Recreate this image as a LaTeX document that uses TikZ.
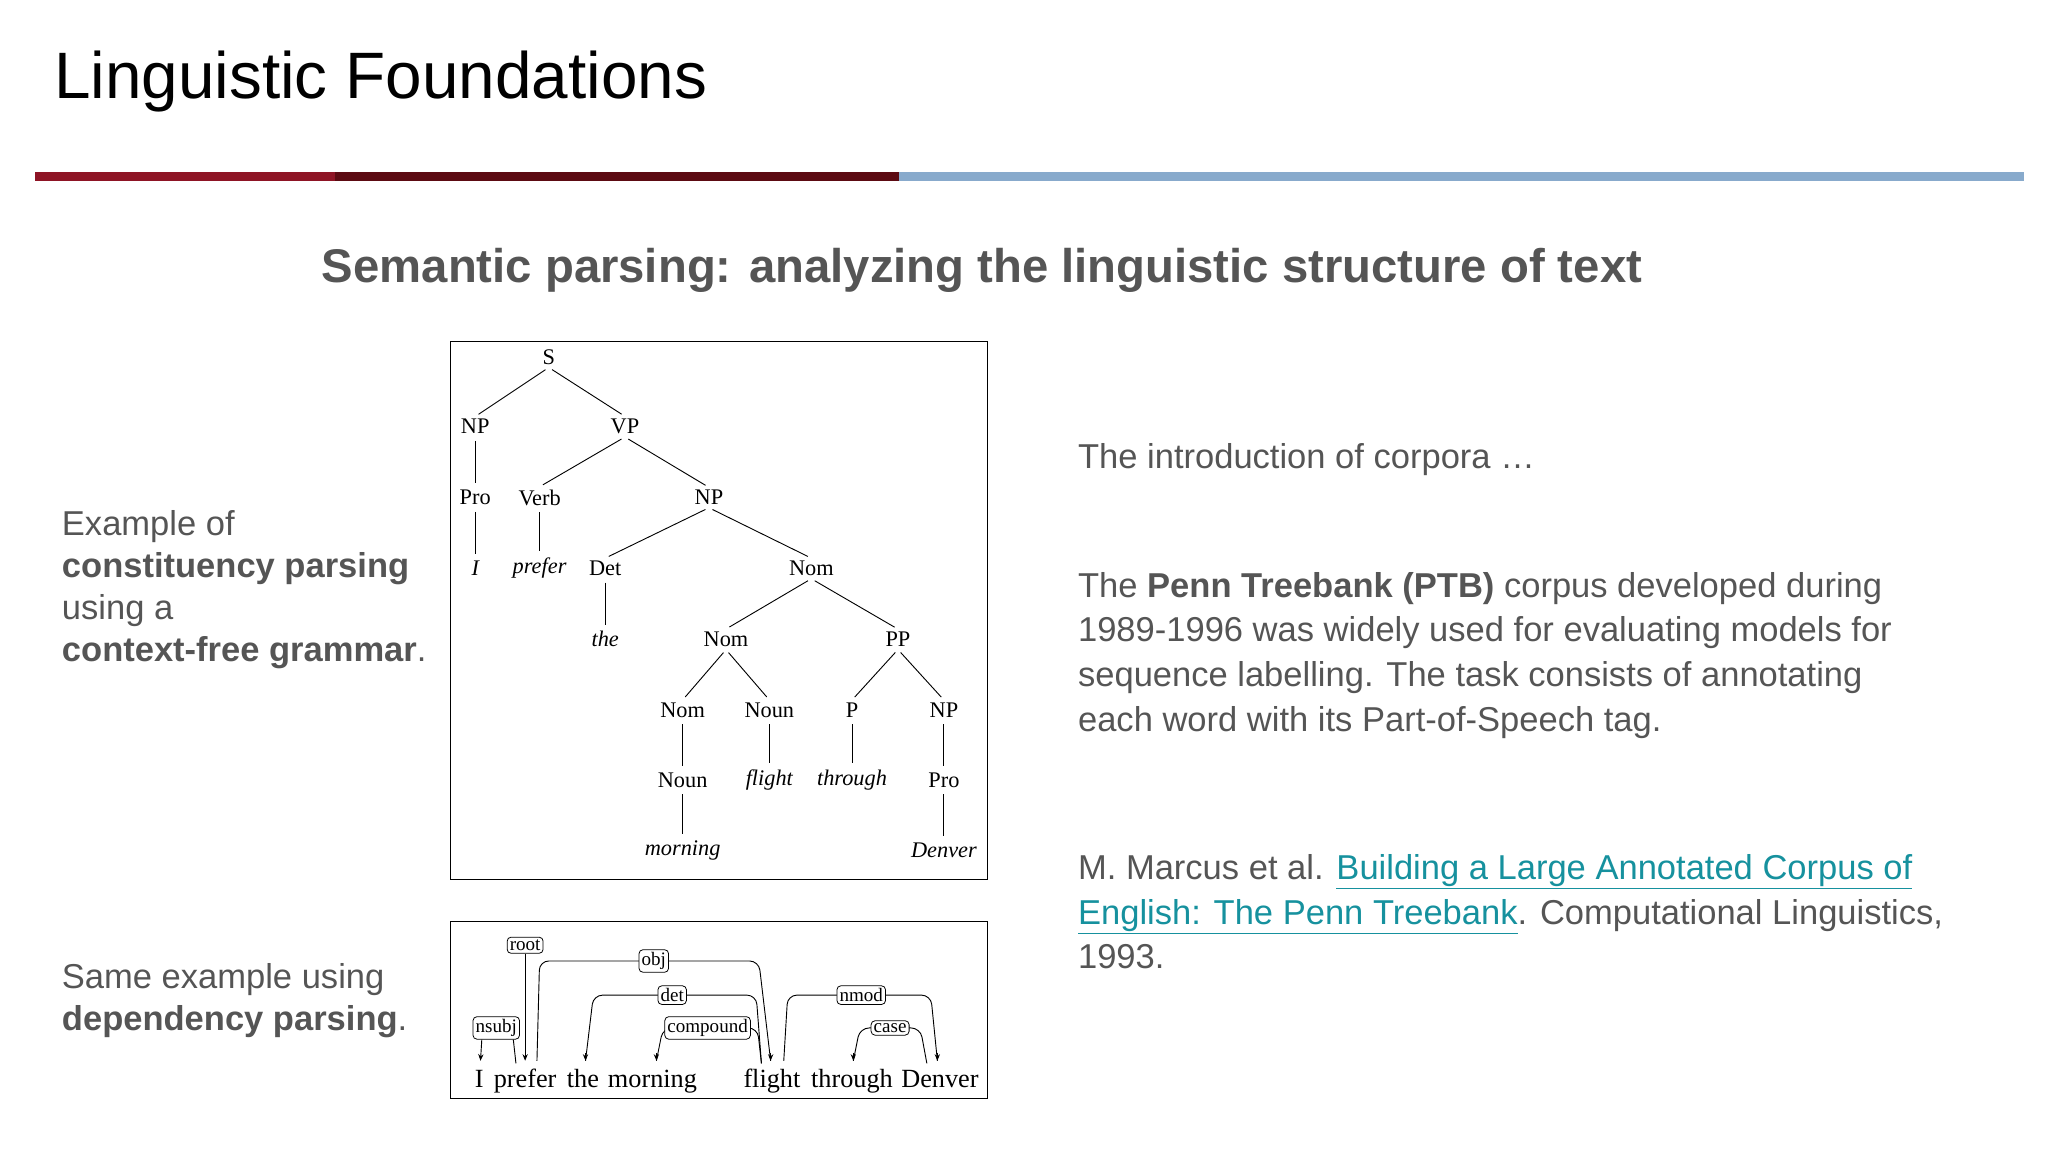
\documentclass[tikz,border=0pt]{standalone}
\usepackage{fontspec}
\setmainfont{Liberation Sans}
\newfontfamily\tms{Liberation Serif}
\usetikzlibrary{arrows.meta}
\definecolor{txtgray}{HTML}{555555}
\definecolor{barred}{HTML}{8E1425}
\definecolor{bardark}{HTML}{5C0A12}
\definecolor{barblue}{HTML}{88AACC}
\definecolor{linkc}{HTML}{16919E}
\tikzset{
 tn/.style={font=\tms\fontsize{17}{17}\selectfont, inner sep=2pt},
 ti/.style={tn, font=\tms\itshape\fontsize{17}{17}\selectfont},
 tl/.style={line width=0.7pt, shorten >=3pt, shorten <=3pt},
 dw/.style={font=\tms\fontsize{20}{20}\selectfont, anchor=base, inner sep=1pt},
 dl/.style={font=\tms\fontsize{14.5}{14.5}\selectfont, draw, rounded corners=3pt, fill=white, inner sep=2pt, line width=0.6pt},
 arc/.style={line width=0.7pt, rounded corners=7pt},
 tip/.style={-{Stealth[length=5pt,width=4pt]}, line width=0.7pt},
 body/.style={font=\fontsize{26.3}{34}\selectfont, text=txtgray, anchor=base west, inner sep=0pt},
}
\newcommand{\lnk}[1]{\textcolor{linkc}{#1}}
\begin{document}
\begin{tikzpicture}[x=1pt,y=-1pt]
\useasboundingbox (0,0) rectangle (1560,877.5);
\node[anchor=base west, inner sep=0pt, font=\fontsize{50}{50}\selectfont] (title) at (41,75) {Linguistic Foundations};
\fill[barred] (27,131) rectangle (255,138);
\fill[bardark] (255,131) rectangle (685,138);
\fill[barblue] (685,131) rectangle (1542,138);
\node[anchor=base, inner sep=0pt, font=\bfseries\fontsize{36}{36}\selectfont, text=txtgray] (sub) at (748,215) {Semantic parsing: analyzing the linguistic structure of text};
% left texts
\node[body] (l1) at (47,408) {Example of};
\node[body] (l2) at (47,440) {\bfseries constituency parsing};
\node[body] (l3) at (47,472) {using a};
\node[body] (l4) at (47,504) {\bfseries context-free grammar\mdseries.};
\node[body] (l5) at (47,753) {Same example using};
\node[body] (l6) at (47,785) {\bfseries dependency parsing\mdseries.};
% right texts
\node[body] (r1) at (821,357) {The introduction of corpora …};
\node[body] (r2) at (821,455) {The \textbf{Penn Treebank (PTB)} corpus developed during};
\node[body] (r3) at (821,489) {1989-1996 was widely used for evaluating models for};
\node[body] (r4) at (821,523) {sequence labelling. The task consists of annotating};
\node[body] (r5) at (821,557) {each word with its Part-of-Speech tag.};
\node[body] (r6) at (821,670) {M. Marcus et al. \lnk{\underline{Building a Large Annotated Corpus of}}};
\node[body] (r7) at (821,704) {\lnk{\underline{English: The Penn Treebank}}. Computational Linguistics,};
\node[body] (r8) at (821,738) {1993.};
% constituency tree
\draw[line width=0.9pt] (343,260) rectangle (752,670);
\node[tn] (S) at (418,272) {S};
\node[tn] (NP1) at (362,325) {NP};
\node[tn] (VP) at (476,325) {VP};
\node[tn] (Pro1) at (362,379) {Pro};
\node[tn] (Verb) at (411,379) {Verb};
\node[tn] (NP2) at (540,379) {NP};
\node[ti] (I) at (362,433) {I};
\node[ti] (prefer) at (411,433) {prefer};
\node[tn] (Det) at (461,433) {Det};
\node[tn] (Nom1) at (618,433) {Nom};
\node[ti] (the) at (461,487) {the};
\node[tn] (Nom2) at (553,487) {Nom};
\node[tn] (PP) at (684,487) {PP};
\node[tn] (Nom3) at (520,541) {Nom};
\node[tn] (Noun1) at (586,541) {Noun};
\node[tn] (P) at (649,541) {P};
\node[tn] (NP3) at (719,541) {NP};
\node[tn] (Noun2) at (520,594) {Noun};
\node[ti] (flight) at (586,594) {flight};
\node[ti] (through) at (649,594) {through};
\node[tn] (Pro2) at (719,594) {Pro};
\node[ti] (morning) at (520,648) {morning};
\node[ti] (Denver) at (719,648) {Denver};
\foreach \a/\b in {S/NP1,S/VP,NP1/Pro1,VP/Verb,VP/NP2,Pro1/I,Verb/prefer,NP2/Det,NP2/Nom1,Det/the,Nom1/Nom2,Nom1/PP,Nom2/Nom3,Nom2/Noun1,PP/P,PP/NP3,Nom3/Noun2,Noun1/flight,P/through,NP3/Pro2,Noun2/morning,Pro2/Denver}
  \draw[tl] (\a.south) -- (\b.north);
% dependency
\draw[line width=0.9pt] (343,702) rectangle (752,837);
\node[dw] (wI) at (365,828) {I};
\node[dw] (wprefer) at (400,828) {prefer};
\node[dw] (wthe) at (444,828) {the};
\node[dw] (wmorning) at (497,828) {morning};
\node[dw] (wflight) at (588,828) {flight};
\node[dw] (wthrough) at (649,828) {through};
\node[dw] (wDenver) at (716,828) {Denver};
\coordinate (pI) at (366,808);
\coordinate (pnsR) at (393,810);
\coordinate (proot) at (400,808);
\coordinate (pobjL) at (409,808);
\coordinate (pthe) at (446,808);
\coordinate (pmorning) at (500,808);
\coordinate (pflA) at (580,810);
\coordinate (pflB) at (587,808);
\coordinate (pflC) at (597,808);
\coordinate (pthrough) at (650,808);
\coordinate (pDenA) at (706,810);
\coordinate (pDenB) at (714,808);
\draw[arc] (pobjL) -- (411,732) -- (578,732) -- (pflB);
\draw[arc] (pflA) -- (576,758) -- (452,758) -- (pthe);
\draw[arc] (pflA) -- (577,783) -- (505,783) -- (pmorning);
\draw[arc] (pflC) -- (600,758) -- (709,758) -- (pDenB);
\draw[arc] (pDenA) -- (701,783) -- (655,783) -- (pthrough);
\foreach \p in {pflB,pthe,pmorning,pDenB,pthrough}
  \draw[tip] (\p)++(0,-6) -- (\p);
\node[dl] (lobj) at (498,732) {obj};
\node[dl] (ldet) at (512,758) {det};
\node[dl] (lcomp) at (539,783) {compound};
\node[dl] (lnmod) at (656,758) {nmod};
\node[dl] (lcase) at (678,783) {case};
\node[dl] (lroot) at (400,720) {root};
\node[dl] (lnsubj) at (378,783) {nsubj};
\draw[tip] (lroot.south) -- (proot);
\draw[tip] (lnsubj.south west)++(7,0) -- (pI);
\draw[line width=0.7pt] (lnsubj.south east)++(-5,0) -- (pnsR);
\end{tikzpicture}
\end{document}
